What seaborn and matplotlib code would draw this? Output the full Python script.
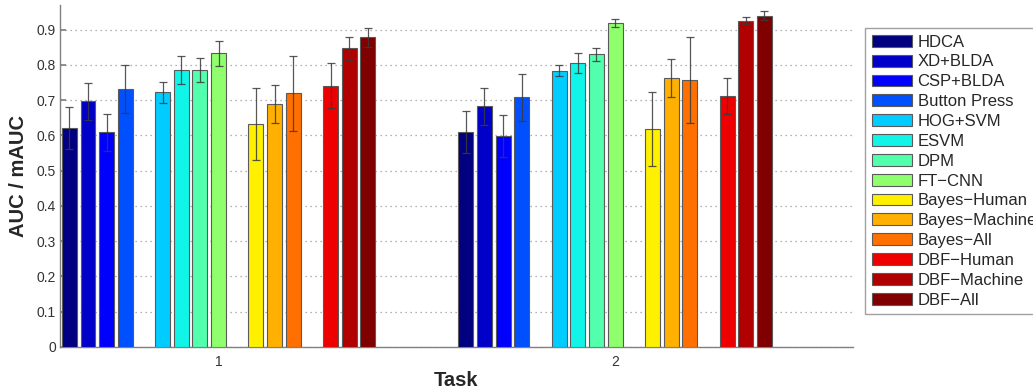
import numpy as np
import pandas as pd
import matplotlib
matplotlib.use("Agg")
import matplotlib.pyplot as plt
from matplotlib.patches import Patch
import seaborn as sns

# ---- data -------------------------------------------------------------
tasks = ["1", "2"]
methods = ["HDCA", "XD+BLDA", "CSP+BLDA", "Button Press",
           "HOG+SVM", "ESVM", "DPM", "FT\u2212CNN",
           "Bayes\u2212Human", "Bayes\u2212Machine", "Bayes\u2212All",
           "DBF\u2212Human", "DBF\u2212Machine", "DBF\u2212All"]
colors = ["#000080", "#0000c8", "#0000ff", "#0050ff",
          "#00ccff", "#10f5e8", "#52ffad", "#8fff6e",
          "#fff000", "#ffb000", "#ff7000",
          "#ee0000", "#b00000", "#800000"]

auc_task1 = [0.622, 0.697, 0.609, 0.732, 0.723, 0.786, 0.786, 0.833,
             0.633, 0.689, 0.719, 0.741, 0.847, 0.878]
err_task1 = [0.060, 0.052, 0.053, 0.068, 0.030, 0.040, 0.035, 0.036,
             0.103, 0.053, 0.106, 0.064, 0.033, 0.027]
auc_task2 = [0.609, 0.683, 0.599, 0.708, 0.784, 0.805, 0.830, 0.919,
             0.618, 0.763, 0.757, 0.711, 0.925, 0.940]
err_task2 = [0.060, 0.052, 0.060, 0.066, 0.016, 0.028, 0.018, 0.012,
             0.105, 0.055, 0.123, 0.051, 0.010, 0.012]

# method families are separated by an empty slot
families = [4, 4, 3, 3]

# ---- layout of hue slots (methods + blank separators) ----------------
hue_order, palette = [], []
k = 0
for fi, n in enumerate(families):
    for _ in range(n):
        hue_order.append(methods[k])
        palette.append(colors[k])
        k += 1
    if fi < len(families) - 1:
        hue_order.append(" " * (fi + 1))
        palette.append("#ffffff")

df = pd.DataFrame({
    "Task": np.repeat(tasks, len(methods)),
    "Method": methods * len(tasks),
    "AUC": auc_task1 + auc_task2,
    "err": err_task1 + err_task2,
})

# ---- figure -----------------------------------------------------------
sns.set_theme(style="white")
plt.rcParams["font.family"] = ["Liberation Sans", "DejaVu Sans"]

fig = plt.figure(figsize=(10.33, 3.9), dpi=100)
ax = fig.add_axes([60 / 1033, 43 / 390, (853 - 60) / 1033, (347 - 5) / 390])

sns.barplot(data=df, x="Task", y="AUC", hue="Method", hue_order=hue_order,
            order=tasks, palette=palette, saturation=1, width=0.8, gap=0.2,
            edgecolor="#5a5a5a", linewidth=0.8, errorbar=None,
            legend=False, ax=ax, zorder=3)

# error bars placed on the drawn bars
slot = 0.8 / len(hue_order)
lookup = {(t, m): e for t, m, e in zip(df["Task"], df["Method"], df["err"])}
xs, ys, es = [], [], []
for p in ax.patches:
    h = p.get_height()
    if not np.isfinite(h) or h <= 0:
        continue
    xc = p.get_x() + p.get_width() / 2
    ti = int(round(xc))
    si = int((xc - ti + 0.4) / slot)
    m = hue_order[si]
    if (tasks[ti], m) in lookup:
        xs.append(xc)
        ys.append(h)
        es.append(lookup[(tasks[ti], m)])
ax.errorbar(xs, ys, yerr=es, fmt="none", ecolor="#3a3a3a", elinewidth=0.9,
            capsize=3, capthick=0.9, zorder=4, alpha=0.85)

# axes styling
ax.set_xlim(-0.4, 1.6)
ax.set_ylim(0, 0.97)
ax.set_yticks(np.arange(0, 0.91, 0.1))
ax.set_yticklabels(["0"] + [f"{v:.1f}" for v in np.arange(0.1, 0.91, 0.1)])
ax.yaxis.grid(True, linestyle=(0, (1, 3)), color="#9a9a9a", linewidth=0.9, zorder=0)
ax.xaxis.grid(False)
for side in ["top", "right"]:
    ax.spines[side].set_visible(False)
for side in ["left", "bottom"]:
    ax.spines[side].set_color("#808080")
    ax.spines[side].set_linewidth(1.0)
ax.tick_params(axis="y", direction="in", length=4, color="#808080",
               labelsize=10, labelcolor="#333333", pad=3, left=True)
ax.tick_params(axis="x", length=0, labelsize=10, labelcolor="#333333", pad=6)

ax.set_xlabel("Task", fontsize=14.5, fontweight="bold", labelpad=1)
ax.set_ylabel("AUC / mAUC", fontsize=14.5, fontweight="bold", labelpad=6)

# legend (methods only)
handles = [Patch(facecolor=c, edgecolor="#5a5a5a", linewidth=0.8) for c in colors]
fig.legend(handles, methods, loc="upper left",
           bbox_to_anchor=(865 / 1033, 1 - 28 / 390), borderaxespad=0,
           frameon=True, fancybox=False, edgecolor="#8a8a8a", fontsize=12,
           handlelength=2.4, handleheight=0.72, handletextpad=0.35,
           labelspacing=0.29, borderpad=0.4)

fig.savefig("out.png", dpi=100)
